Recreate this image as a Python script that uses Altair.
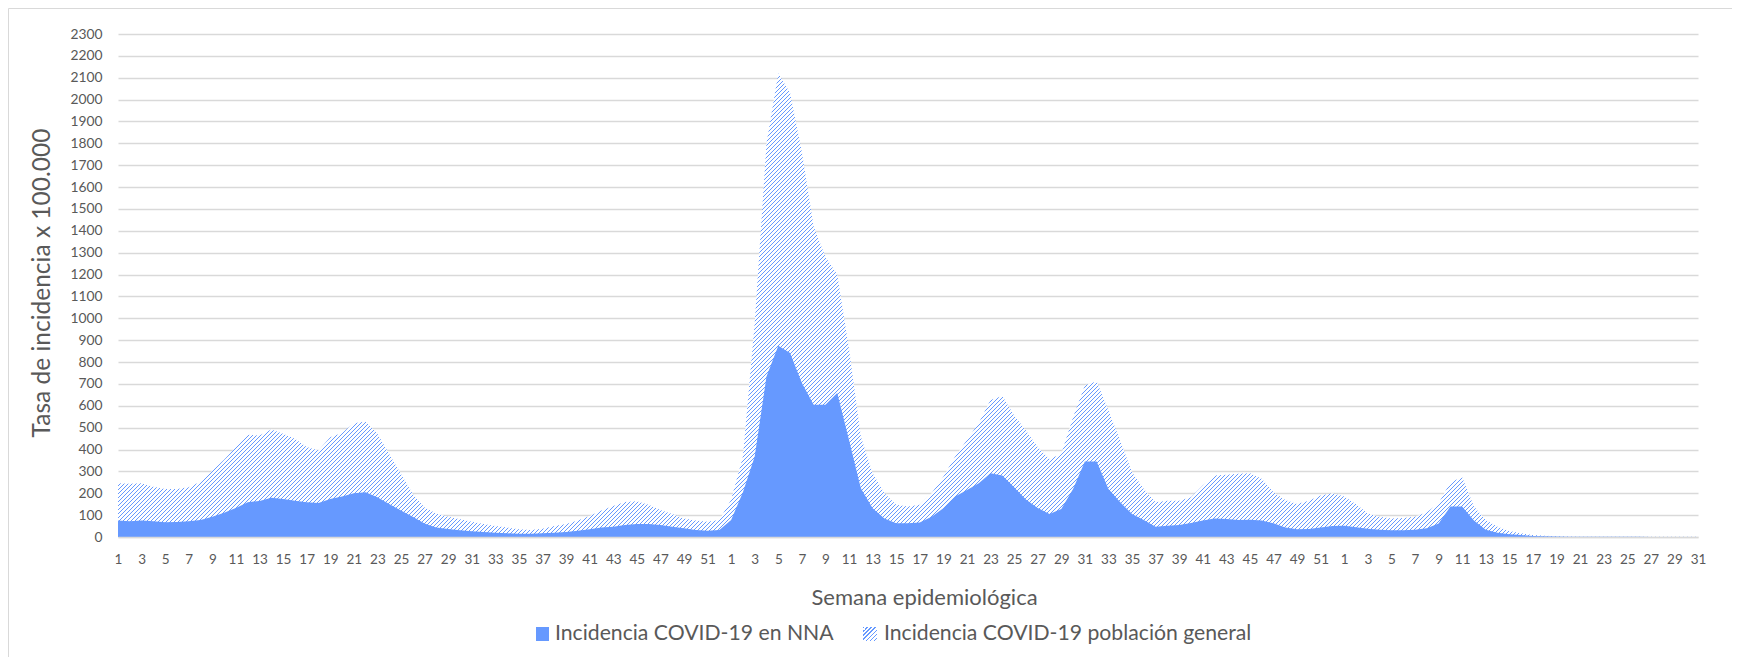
import altair as alt
import pandas as pd

# ---------------- data ----------------
semana = list(range(1, 53)) + list(range(1, 53)) + list(range(1, 32))
tramo = ["a"] * 52 + ["b"] * 52 + ["c"] * 31

nna = [
    75, 72, 76, 72, 67, 69, 72, 78, 93, 111,
    133, 159, 165, 179, 174, 166, 159, 156, 174, 185,
    200, 205, 182, 151, 121, 93, 62, 44, 37, 31,
    26, 23, 20, 17, 15, 15, 17, 20, 23, 29,
    35, 43, 47, 55, 60, 60, 55, 47, 40, 32,
    29, 32,
    78, 205, 368, 734, 875, 841, 704, 605, 605, 658,
    444, 223, 131, 85, 63, 63, 66, 93, 131, 185,
    215, 246, 292, 281, 227, 171, 133, 105, 128, 220,
    345, 345, 220, 159, 105, 78, 47, 52, 55, 64,
    75, 85, 82, 78, 79, 75, 63, 44, 35, 37,
    44, 50,
    52, 45, 38, 33, 31, 31, 33, 40, 62, 139,
    139, 75, 33, 20, 13, 9, 5, 3, 2, 1,
    1, 1, 1, 1, 1, 1, 0.5, 0.5, 0.5, 0.5, 0.5,
]

general = [
    246, 243, 246, 230, 220, 220, 227, 253, 304, 353,
    411, 467, 464, 492, 472, 449, 411, 395, 456, 476,
    520, 528, 472, 380, 288, 197, 135, 108, 93, 81,
    70, 60, 50, 43, 35, 32, 38, 50, 60, 75,
    96, 121, 142, 160, 163, 147, 124, 105, 85, 75,
    70, 78,
    170, 368, 980, 1800, 2120, 2030, 1760, 1420, 1280, 1200,
    860, 460, 292, 200, 147, 139, 147, 200, 276, 368,
    444, 521, 627, 645, 556, 487, 411, 357, 380, 548,
    693, 712, 579, 441, 296, 220, 159, 166, 166, 182,
    235, 281, 285, 289, 292, 266, 205, 169, 151, 166,
    190, 200,
    185, 150, 108, 93, 85, 87, 93, 113, 154, 250,
    273, 139, 78, 47, 27, 17, 9, 6, 3, 2,
    1, 1, 1, 1, 1, 1, 1, 1, 1, 1, 1,
]

serie_nna = "Incidencia COVID-19 en NNA"
serie_gen = "Incidencia COVID-19 población general"
eje_y = list(range(0, 2400, 100))
titulo_x = "Semana epidemiológica"
titulo_y = "Tasa de incidencia x 100.000"

claves = [f"{t}-{s}" for t, s in zip(tramo, semana)]
df = pd.DataFrame({"clave": claves, "nna": nna, "general": general})

# ---------------- style ----------------
W, H = 1580, 503
YMAX = 2300
AZUL = "#6699ff"
GRIS = "#595959"
GRID = "#d9d9d9"
FONT = "Lato"


def rayado(w, h, periodo=4.0, frac=0.4):
    """Diagonal '/' hatch built as a striped linear gradient over a w x h box."""
    r = h / w
    k = (1 + r) / (1 + r * r)
    n = (w + h) / periodo
    stops = []
    p = 0
    while p < n:
        a = round(p / n, 6)
        b = round(min((p + frac) / n, 1.0), 6)
        c = round(min((p + 1) / n, 1.0), 6)
        stops += [
            alt.GradientStop(color=AZUL, offset=a),
            alt.GradientStop(color=AZUL, offset=b),
            alt.GradientStop(color="white", offset=b),
            alt.GradientStop(color="white", offset=c),
        ]
        p += 1
    return alt.LinearGradient(gradient="linear", stops=stops,
                              x1=0, y1=0, x2=k, y2=k * r)


x_axis = alt.Axis(
    values=claves[::2], labelExpr="split(datum.value, '-')[1]",
    labelAngle=0, labelOverlap=False, ticks=False, grid=False,
    domain=True, domainColor=GRID, domainWidth=1.5,
    labelFont=FONT, labelFontSize=13.5, labelColor=GRIS,
    labelPadding=22, labelBaseline="middle",
    title=titulo_x, titleFont=FONT, titleFontSize=22,
    titleFontWeight="normal", titleColor=GRIS,
    titleX=806, titleY=60, titleAlign="center", titleBaseline="middle",
    zindex=1,
)
x_scale = alt.Scale(type="point", padding=0)

y_axis = alt.Axis(
    values=eje_y, format="d", labelOverlap=False, tickCount=len(eje_y),
    grid=True, gridColor=GRID, gridWidth=1.5,
    domain=False, ticks=False,
    labelFont=FONT, labelFontSize=13.8, labelColor=GRIS,
    labelPadding=16,
    title=titulo_y, titleFont=FONT, titleFontSize=24.5,
    titleFontWeight="normal", titleColor=GRIS,
    titleX=-76, titleY=H / 2 - 3, titleAngle=-90,
    titleAlign="center", titleBaseline="middle",
)
y_scale = alt.Scale(domain=[0, YMAX], nice=False, zero=True)

bbox_h = H * max(general) / YMAX
area_gen = alt.Chart(df).mark_area(color=rayado(W, bbox_h)).encode(
    x=alt.X("clave:N", sort=claves, scale=x_scale, axis=x_axis),
    y=alt.Y("general:Q", scale=y_scale, stack=None, axis=y_axis),
)

area_nna = alt.Chart(df).mark_area(color=AZUL).encode(
    x=alt.X("clave:N", sort=claves, scale=x_scale, axis=x_axis),
    y=alt.Y("nna:Q", scale=y_scale, stack=None, axis=y_axis),
)

# ---------------- legend ----------------
ley_nna = pd.DataFrame({"s": [serie_nna]})
ley_gen = pd.DataFrame({"s": [serie_gen]})

sym_nna = alt.Chart(ley_nna).mark_rect(color=AZUL).encode(
    x=alt.value(418), x2=alt.value(431), y=alt.value(593), y2=alt.value(607))
txt_nna = alt.Chart(ley_nna).mark_text(
    align="left", baseline="middle", font=FONT, fontSize=21.2, color=GRIS
).encode(x=alt.value(437), y=alt.value(600), text="s:N")

sym_gen = alt.Chart(ley_gen).mark_rect(color=rayado(14, 14)).encode(
    x=alt.value(745), x2=alt.value(759), y=alt.value(593), y2=alt.value(607))
txt_gen = alt.Chart(ley_gen).mark_text(
    align="left", baseline="middle", font=FONT, fontSize=21.2, color=GRIS
).encode(x=alt.value(766), y=alt.value(600), text="s:N")

# chart frame (left and top edges)
marco = pd.DataFrame({"m": [0]})
marco_izq = alt.Chart(marco).mark_rule(color=GRID, strokeWidth=1).encode(
    x=alt.value(-109.5), y=alt.value(-25.5), y2=alt.value(H + 120))
marco_sup = alt.Chart(marco).mark_rule(color=GRID, strokeWidth=1).encode(
    x=alt.value(-109.5), x2=alt.value(W + 34), y=alt.value(-25.5))

chart = alt.layer(
    area_gen, area_nna, sym_nna, txt_nna, sym_gen, txt_gen, marco_izq, marco_sup
).properties(
    width=W, height=H,
    autosize=alt.AutoSizeParams(type="none"),
    padding={"left": 110, "top": 26, "right": 34, "bottom": 120},
).configure(background="white").configure_view(strokeWidth=0)

chart.save("out.html", embed_options={"renderer": "svg", "actions": False})
